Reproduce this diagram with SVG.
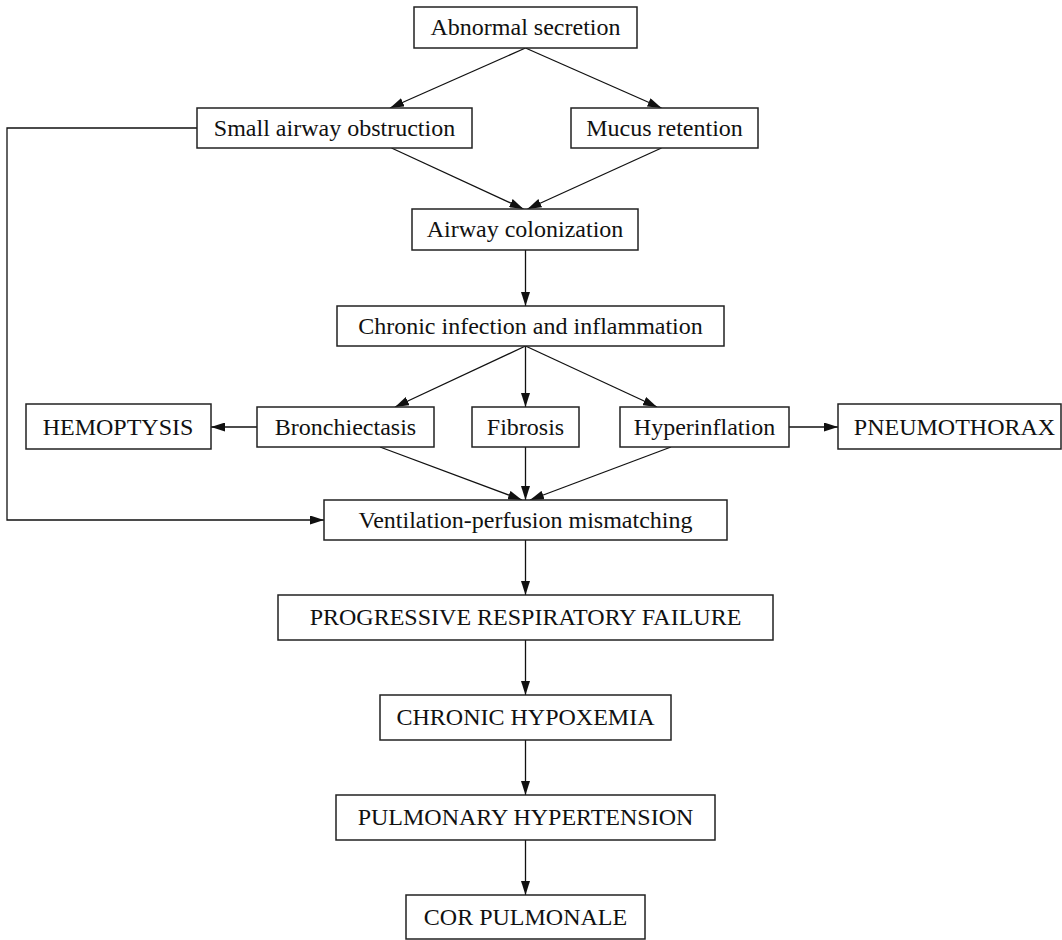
<svg xmlns="http://www.w3.org/2000/svg" width="1062" height="940" viewBox="0 0 1062 940">
  <style>
    .box { fill: #ffffff; stroke: #222222; stroke-width: 1.5; }
    .lbl { font-family: "Liberation Serif", "Times New Roman", serif; font-size: 24px; fill: #111111; text-anchor: middle; }
    .edge { fill: none; stroke: #111111; stroke-width: 1.3; marker-end: url(#arrow); }
  </style>
  <defs>
    <marker id="arrow" viewBox="0 0 14 9" refX="14" refY="4.5" markerWidth="14" markerHeight="9" markerUnits="userSpaceOnUse" orient="auto">
      <path d="M0,0 L14,4.5 L0,9 Z" fill="#111111"/>
    </marker>
  </defs>
  <rect width="1062" height="940" fill="#ffffff"/>

  <!-- connectors -->
  <g id="connectors">
    <line class="edge" x1="525.5" y1="48" x2="390" y2="108"/>
    <line class="edge" x1="525.5" y1="48" x2="661.5" y2="108"/>
    <line class="edge" x1="391.5" y1="148" x2="523.5" y2="209"/>
    <line class="edge" x1="661.5" y1="148" x2="527.5" y2="209"/>
    <line class="edge" x1="525.5" y1="250" x2="525.5" y2="306"/>
    <line class="edge" x1="525.5" y1="346" x2="395" y2="407"/>
    <line class="edge" x1="525.5" y1="346" x2="525.5" y2="407"/>
    <line class="edge" x1="525.5" y1="346" x2="657" y2="407"/>
    <line class="edge" x1="257" y1="427" x2="211" y2="427"/>
    <line class="edge" x1="789" y1="427" x2="838" y2="427"/>
    <line class="edge" x1="380" y1="447" x2="522" y2="500"/>
    <line class="edge" x1="525.5" y1="447" x2="525.5" y2="500"/>
    <line class="edge" x1="671" y1="447" x2="530" y2="500"/>
    <polyline class="edge" points="197,128 7,128 7,520 324,520"/>
    <line class="edge" x1="525.5" y1="540" x2="525.5" y2="595"/>
    <line class="edge" x1="525.5" y1="640" x2="525.5" y2="695"/>
    <line class="edge" x1="525.5" y1="740" x2="525.5" y2="795"/>
    <line class="edge" x1="525.5" y1="840" x2="525.5" y2="895"/>
  </g>

  <!-- nodes -->
  <g id="abnormal-secretion">
    <rect class="box" x="414" y="7" width="223" height="41"/>
    <text class="lbl" x="525.5" y="35">Abnormal secretion</text>
  </g>
  <g id="small-airway-obstruction">
    <rect class="box" x="197" y="108" width="275" height="40"/>
    <text class="lbl" x="334.5" y="136">Small airway obstruction</text>
  </g>
  <g id="mucus-retention">
    <rect class="box" x="571" y="108" width="187" height="40"/>
    <text class="lbl" x="664.5" y="136">Mucus retention</text>
  </g>
  <g id="airway-colonization">
    <rect class="box" x="412" y="209" width="226" height="41"/>
    <text class="lbl" x="525" y="237">Airway colonization</text>
  </g>
  <g id="chronic-infection">
    <rect class="box" x="337" y="306" width="387" height="40"/>
    <text class="lbl" x="530.5" y="334">Chronic infection and inflammation</text>
  </g>
  <g id="hemoptysis">
    <rect class="box" x="26" y="404" width="185" height="45"/>
    <text class="lbl" x="118" y="435">HEMOPTYSIS</text>
  </g>
  <g id="bronchiectasis">
    <rect class="box" x="257" y="407" width="177" height="40"/>
    <text class="lbl" x="345.5" y="435">Bronchiectasis</text>
  </g>
  <g id="fibrosis">
    <rect class="box" x="472" y="407" width="107" height="40"/>
    <text class="lbl" x="525.5" y="435">Fibrosis</text>
  </g>
  <g id="hyperinflation">
    <rect class="box" x="620" y="407" width="169" height="40"/>
    <text class="lbl" x="704.5" y="435">Hyperinflation</text>
  </g>
  <g id="pneumothorax">
    <rect class="box" x="838" y="404" width="223" height="45"/>
    <text class="lbl" x="954.5" y="435">PNEUMOTHORAX</text>
  </g>
  <g id="vq-mismatching">
    <rect class="box" x="324" y="500" width="403" height="40"/>
    <text class="lbl" x="525.5" y="528">Ventilation-perfusion mismatching</text>
  </g>
  <g id="respiratory-failure">
    <rect class="box" x="278" y="595" width="495" height="45"/>
    <text class="lbl" x="525.5" y="625">PROGRESSIVE RESPIRATORY FAILURE</text>
  </g>
  <g id="chronic-hypoxemia">
    <rect class="box" x="380" y="695" width="291" height="45"/>
    <text class="lbl" x="525.5" y="725">CHRONIC HYPOXEMIA</text>
  </g>
  <g id="pulmonary-hypertension">
    <rect class="box" x="336" y="795" width="379" height="45"/>
    <text class="lbl" x="525.5" y="825">PULMONARY HYPERTENSION</text>
  </g>
  <g id="cor-pulmonale">
    <rect class="box" x="406" y="895" width="239" height="44"/>
    <text class="lbl" x="525.5" y="925">COR PULMONALE</text>
  </g>
</svg>
